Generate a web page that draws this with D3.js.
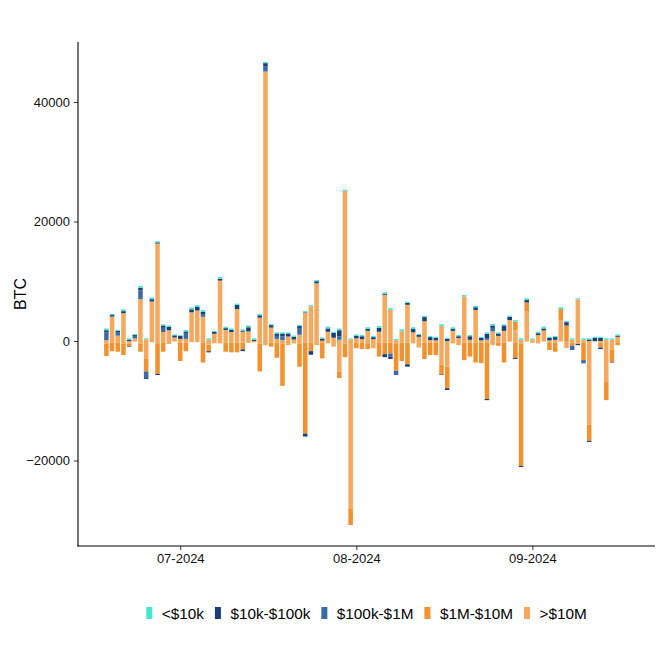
<!DOCTYPE html>
<html><head><meta charset="utf-8">
<script src="https://cdn.jsdelivr.net/npm/d3@7"></script>
<style>
body{margin:0;background:#fff}
svg{display:block}
text{font-family:"Liberation Sans",Arial,sans-serif}
</style>
</head><body>
<svg id="chart" width="661" height="661"></svg>
<script>
// ---------- DATA ----------
const categories = ["<$10k", "$10k-$100k", "$100k-$1M", "$1M-$10M", ">$10M"];
const colors = ["#46E6D3", "#1B3F7B", "#3A6BA6", "#F3912E", "#F6A95E"];
const firstDay = "2024-06-18";
const lastDay = "2024-09-16";
const xTickDates = ["2024-07-01", "2024-08-01", "2024-09-01"];
const xTickLabels = ["07-2024", "08-2024", "09-2024"];
const yTicks = [-20000, 0, 20000, 40000];

// inflows (positive) per size class, BTC per day
const in_lt10k = [
 300,150,170,300,250,150,300,200,300,200,
 200,200,150,150,250,300,300,300,250,150,
 300,250,200,200,200,300,250,200,200,200,
 200,200,200,200,200,200,200,200,200,300,
 200,300,200,200,200,200,300,200,300,300,
 300,200,300,200,300,200,200,200,200,300,
 200,300,200,250,200,250,200,250,250,200,
 200,200,250,250,300,200,250,300,200,200,
 300,200,250,200,250,200,200,200,250,250,
 200];
const in_10k_100k = [
 350,250,200,350,200,200,400,0,400,200,
 400,600,350,500,250,500,600,400,0,350,
 300,300,400,700,200,700,200,400,500,400,
 400,500,500,450,450,100,0,350,350,550,
 800,1000,0,0,450,500,300,350,650,150,
 0,0,0,350,550,300,700,500,400,0,
 350,300,300,0,600,450,400,700,400,400,
 900,550,0,0,400,0,300,350,400,450,
 0,550,0,0,0,250,500,500,0,0,
 200];
const in_100k_1m = [
 1300,0,600,0,0,400,1500,0,0,0,
 700,0,0,0,1000,0,0,450,0,0,
 0,0,0,0,0,0,0,0,900,0,
 500,600,0,0,1000,0,0,0,0,0,
 0,600,0,0,0,0,0,0,0,0,
 0,0,0,0,0,0,0,0,0,0,
 0,0,0,0,0,0,0,300,600,0,
 0,0,0,0,0,0,0,0,0,0,
 0,0,0,0,0,0,0,0,0,0,
 0];
const in_1m_10m = [
 0,0,0,0,0,0,0,0,0,0,
 0,0,0,0,0,0,0,0,0,0,
 0,0,0,0,0,0,0,0,0,0,
 0,0,0,0,0,0,0,0,0,0,
 0,0,0,0,0,0,0,0,0,0,
 0,0,0,0,0,0,0,0,0,0,
 0,0,0,0,0,0,0,0,0,0,
 0,0,1500,0,1550,0,0,0,0,0,
 1850,2600,0,0,0,0,0,0,0,0,
 0];
const in_gt10m = [
 150,4100,900,4650,0,450,7000,250,6600,16300,
 1500,1800,600,350,350,4800,5100,4050,200,1200,
 10100,1850,1500,5350,1550,1600,0,3900,45100,2250,
 350,150,750,250,1050,4700,5800,9650,50,1550,
 550,200,25100,250,450,300,1700,300,1550,7700,
 5200,150,1650,6050,1450,700,3300,150,100,2500,
 0,1700,500,7450,200,5200,100,200,1600,850,
 1700,3500,1750,200,4900,250,1000,1750,100,200,
 3500,0,200,6950,200,0,0,0,200,200,
 700];

// outflows (drawn below zero) per size class, BTC per day
const out_lt10k = [
 0,0,0,0,0,0,0,0,0,0,
 0,0,0,0,0,0,0,0,0,0,
 0,0,0,0,0,0,0,0,0,0,
 0,0,0,0,0,100,0,0,0,0,
 0,0,0,0,0,0,0,0,0,0,
 0,0,0,0,0,0,0,0,0,0,
 0,0,0,0,0,0,0,0,0,0,
 0,0,0,0,0,0,0,0,0,0,
 0,0,0,0,0,0,0,0,0,0,
 0];
const out_10k_100k = [
 0,0,0,0,100,0,0,150,0,200,
 0,0,0,0,0,0,0,0,200,0,
 0,0,0,0,300,0,0,0,0,0,
 0,0,0,0,0,500,600,0,0,0,
 0,0,0,0,0,0,0,0,0,500,
 400,0,0,400,0,0,0,0,0,100,
 300,0,0,0,0,0,0,200,0,0,
 0,0,200,200,0,0,0,0,0,0,
 0,0,0,200,0,200,0,250,0,100,
 0];
const out_100k_1m = [
 0,0,0,0,0,0,0,1100,0,0,
 0,0,0,0,0,0,0,0,0,0,
 0,0,0,0,0,0,0,0,0,0,
 0,0,0,0,0,0,0,0,0,0,
 0,0,0,0,0,0,0,0,0,0,
 500,700,0,0,0,0,0,0,0,0,
 0,0,0,0,0,0,0,0,0,0,
 0,0,0,0,0,0,0,0,0,0,
 0,0,700,0,550,0,0,0,0,0,
 0];
const out_1m_10m = [
 2100,1400,1500,1950,450,0,1400,2200,0,5000,
 1500,0,0,3050,1400,0,0,3300,1100,0,
 0,1500,1600,1600,1100,0,0,4700,0,650,
 2500,7100,0,0,3900,15200,1400,0,2600,0,
 0,1100,2300,2800,900,1050,850,0,2300,1900,
 1800,4500,3050,3600,0,0,2700,2050,2050,1600,
 3600,0,0,2900,2300,3300,3400,9400,0,500,
 3300,0,2500,20500,0,0,0,0,1200,1500,
 0,0,500,0,2900,2700,0,800,3100,2000,
 500];
const out_gt10m = [
 400,300,300,400,400,100,400,2900,200,500,
 300,500,100,300,300,200,200,300,600,400,
 400,300,300,300,300,300,200,400,700,300,
 300,400,700,400,400,300,300,700,300,400,
 950,5100,400,28000,300,300,500,1200,300,300,
 300,500,300,300,400,1100,300,300,300,4000,
 4300,400,700,300,300,300,300,300,700,300,
 300,100,300,400,100,300,400,100,300,300,
 100,1200,300,500,300,14000,100,300,6800,1500,
 200];

// ---------- BUILD TABLE ----------
const parse = d3.timeParse("%Y-%m-%d");
const days = d3.timeDay.range(parse(firstDay), d3.timeDay.offset(parse(lastDay), 1));
const inflows = [in_lt10k, in_10k_100k, in_100k_1m, in_1m_10m, in_gt10m];
const outflows = [out_lt10k, out_10k_100k, out_100k_1m, out_1m_10m, out_gt10m];

// stacking order from zero outward: >$10M, $1M-$10M, $100k-$1M, $10k-$100k, <$10k
const order = [4, 3, 2, 1, 0];
const keys = [];
order.forEach(ci => { keys.push("in" + ci); keys.push("out" + ci); });
const table = days.map((d, i) => {
  const row = {date: d};
  for (let ci = 0; ci < 5; ci++) {
    row["in" + ci] = inflows[ci][i];
    row["out" + ci] = -outflows[ci][i];
  }
  return row;
});
const series = d3.stack().keys(keys).offset(d3.stackOffsetDiverging)(table);

// ---------- LAYOUT ----------
const svg = d3.select("#chart");
const L = 78, R = 646, T = 42, B = 546;
const x = d3.scaleTime()
  .domain([d3.timeDay.offset(parse(firstDay), -5), d3.timeDay.offset(parse(lastDay), 5)])
  .range([L, R]);
const y = d3.scaleLinear().domain([-34310, 50040]).range([B, T]);
const dayW = x(days[1]) - x(days[0]);
const barW = dayW * 0.8;

const g = svg.append("g");
series.forEach(s => {
  const ci = +s.key.replace(/\D/g, "");
  g.append("g").attr("fill", colors[ci])
    .selectAll("rect").data(s).join("rect")
    .attr("x", d => x(d.data.date) - barW / 2)
    .attr("width", barW)
    .attr("y", d => y(Math.max(d[0], d[1])))
    .attr("height", d => Math.abs(y(d[0]) - y(d[1])));
});

// axes
const yAxis = d3.axisLeft(y).tickValues(yTicks).tickSize(4).tickPadding(4).tickFormat(d3.format("d"));
const xAxis = d3.axisBottom(x).tickValues(xTickDates.map(parse)).tickSize(4).tickPadding(4)
  .tickFormat((d, i) => xTickLabels[i]);

const ya = svg.append("g").attr("transform", `translate(${L},0)`).call(yAxis);
const xa = svg.append("g").attr("transform", `translate(0,${B})`).call(xAxis);
[ya, xa].forEach(a => {
  a.select(".domain").remove();
  a.selectAll(".tick line").attr("stroke", "#333").attr("stroke-width", 1);
  a.selectAll(".tick text").attr("fill", "#111").style("font-size", "13px");
});
svg.append("line").attr("x1", L).attr("x2", L).attr("y1", T).attr("y2", B + 0.5)
  .attr("stroke", "#000").attr("stroke-width", 1.1);
svg.append("line").attr("x1", L - 0.5).attr("x2", R + 9).attr("y1", B).attr("y2", B)
  .attr("stroke", "#000").attr("stroke-width", 1.1);

// y title
svg.append("text").attr("transform", `translate(26,${(T + B) / 2}) rotate(-90)`)
  .attr("text-anchor", "middle").style("font-size", "16px").attr("fill", "#000").text("BTC");

// legend
const leg = svg.append("g");
const keyW = 6, keyH = 12, gap1 = 9.5, gap2 = 11, legY = 619;
let cx = 0;
categories.forEach((c, i) => {
  const it = leg.append("g");
  it.append("rect").attr("x", cx).attr("y", legY - keyH).attr("width", keyW).attr("height", keyH).attr("fill", colors[i]);
  const t = it.append("text").attr("x", cx + keyW + gap1).attr("y", legY - 0.5)
    .style("font-size", "15.3px").attr("fill", "#000").text(c);
  cx += keyW + gap1 + t.node().getComputedTextLength() + gap2;
});
const totalW = cx - gap2;
leg.attr("transform", `translate(${366.5 - totalW / 2},0)`);
</script>
</body></html>
